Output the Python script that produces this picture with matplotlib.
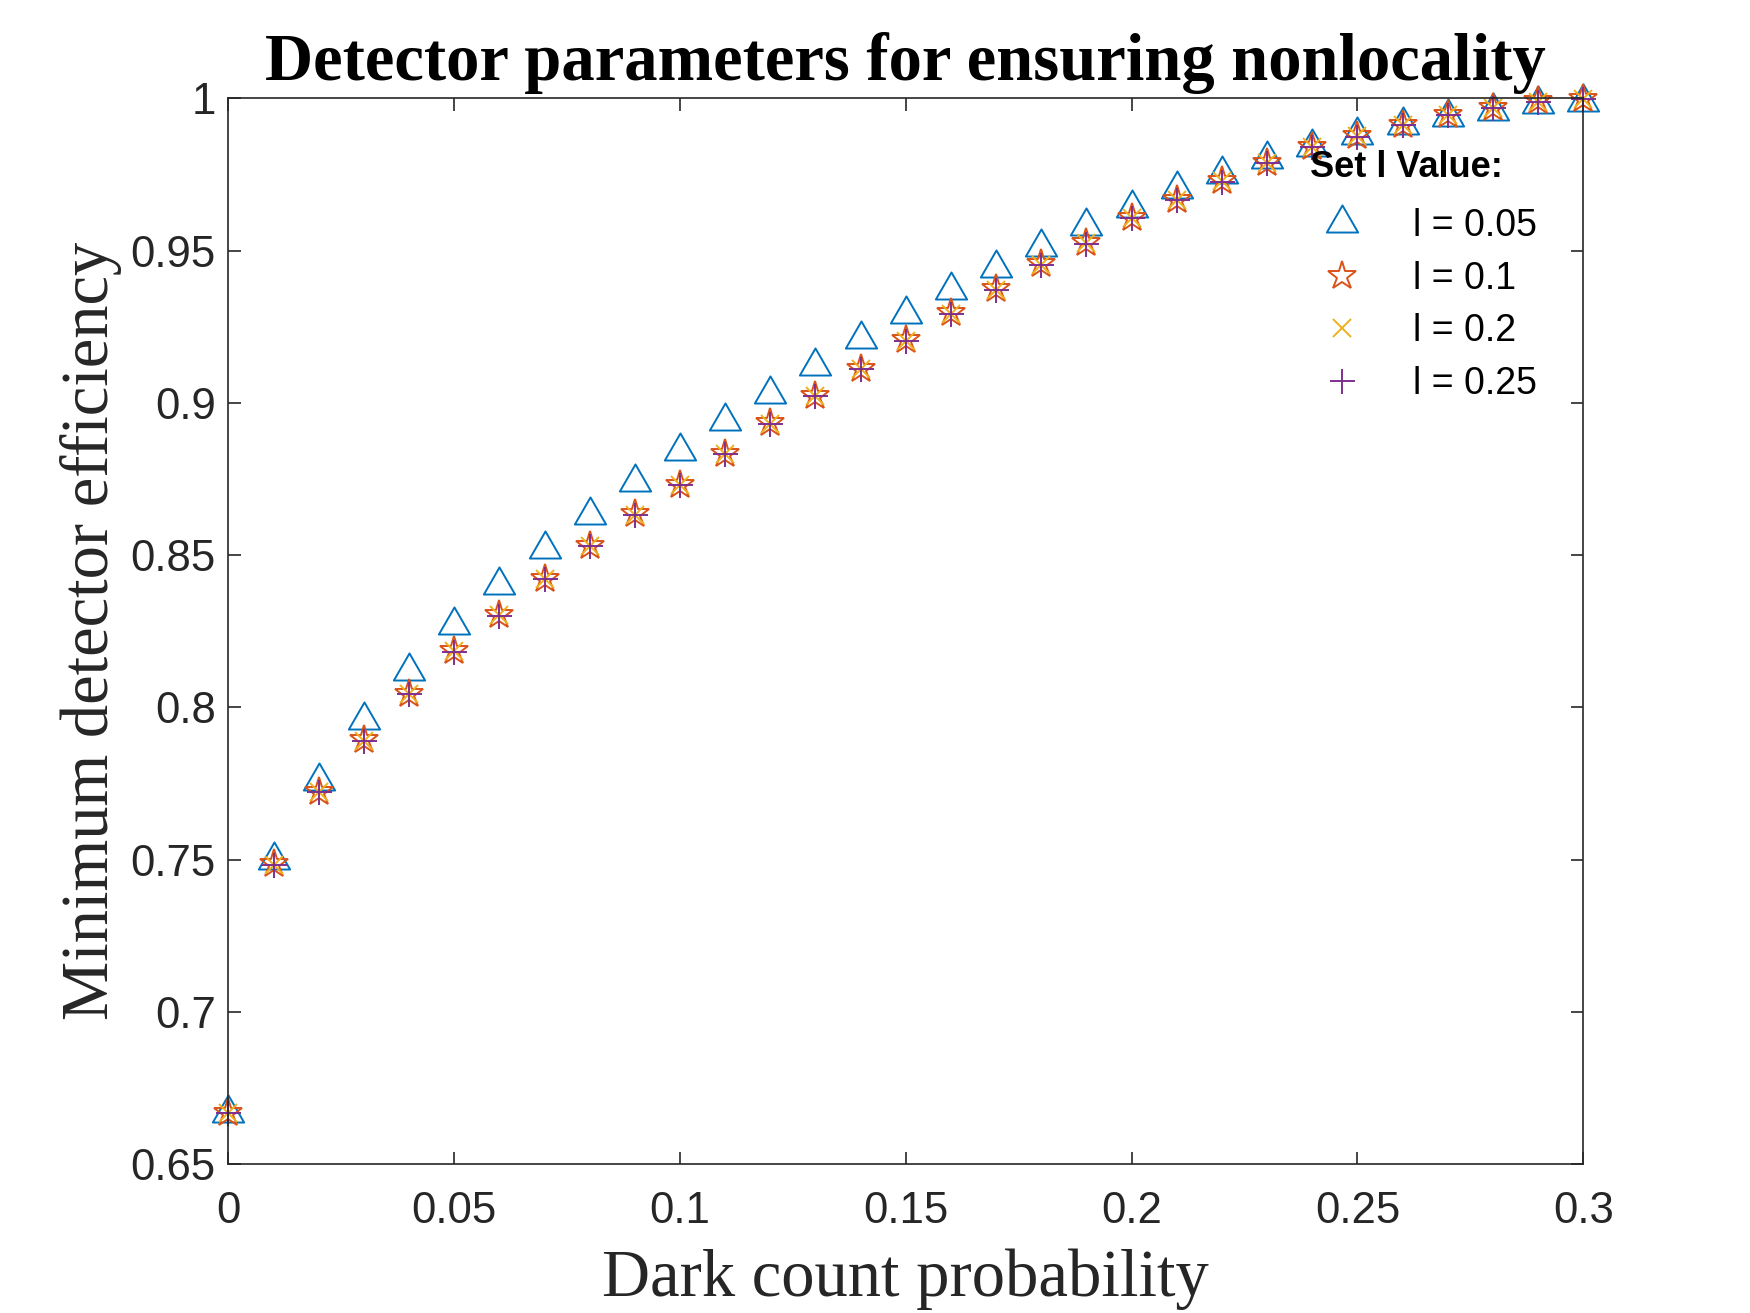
import numpy as np
import matplotlib
matplotlib.use("Agg")
import matplotlib.pyplot as plt
from matplotlib.path import Path

# dark count probability
dark = [0.00, 0.01, 0.02, 0.03, 0.04, 0.05, 0.06, 0.07, 0.08, 0.09, 0.10,
        0.11, 0.12, 0.13, 0.14, 0.15, 0.16, 0.17, 0.18, 0.19, 0.20,
        0.21, 0.22, 0.23, 0.24, 0.25, 0.26, 0.27, 0.28, 0.29, 0.30]

# minimum detector efficiency, one list per l value
eta_005 = [0.6667, 0.7499, 0.7759, 0.7959, 0.8120, 0.8271, 0.8401, 0.8520, 0.8631, 0.8740, 0.8841,
           0.8941, 0.9030, 0.9120, 0.9210, 0.9292, 0.9371, 0.9442, 0.9511, 0.9580, 0.9640,
           0.9701, 0.9750, 0.9801, 0.9839, 0.9880, 0.9912, 0.9938, 0.9959, 0.9980, 0.9988]
eta_01 = [0.6667, 0.7485, 0.7723, 0.7892, 0.8045, 0.8185, 0.8303, 0.8423, 0.8531, 0.8634, 0.8732,
          0.8833, 0.8933, 0.9024, 0.9112, 0.9205, 0.9294, 0.9373, 0.9455, 0.9525, 0.9608,
          0.9667, 0.9728, 0.9789, 0.9841, 0.9876, 0.9914, 0.9946, 0.9968, 0.9990, 0.9997]
eta_02 = [0.6667, 0.7484, 0.7722, 0.7891, 0.8044, 0.8184, 0.8302, 0.8422, 0.8530, 0.8633, 0.8731,
          0.8832, 0.8932, 0.9023, 0.9111, 0.9204, 0.9293, 0.9372, 0.9454, 0.9524, 0.9607,
          0.9666, 0.9727, 0.9788, 0.9840, 0.9875, 0.9913, 0.9945, 0.9967, 0.9989, 0.9997]
eta_025 = [0.6667, 0.7483, 0.7721, 0.7890, 0.8043, 0.8183, 0.8301, 0.8421, 0.8529, 0.8632, 0.8730,
           0.8831, 0.8931, 0.9022, 0.9110, 0.9203, 0.9292, 0.9371, 0.9453, 0.9523, 0.9606,
           0.9665, 0.9726, 0.9787, 0.9839, 0.9874, 0.9912, 0.9945, 0.9967, 0.9989, 0.9997]

labels = ["l = 0.05", "l = 0.1", "l = 0.2", "l = 0.25"]
xticks = [0, 0.05, 0.1, 0.15, 0.2, 0.25, 0.3]
xticklabels = ["0", "0.05", "0.1", "0.15", "0.2", "0.25", "0.3"]
yticks = [0.65, 0.7, 0.75, 0.8, 0.85, 0.9, 0.95, 1.0]
yticklabels = ["0.65", "0.7", "0.75", "0.8", "0.85", "0.9", "0.95", "1"]

# matlab style triangle, centred on its centroid
h = np.sqrt(3) / 2
tri = Path([(0, 2 * h / 3), (-0.5, -h / 3), (0.5, -h / 3), (0, 2 * h / 3)],
           [Path.MOVETO, Path.LINETO, Path.LINETO, Path.CLOSEPOLY])

serif = "Liberation Serif"
sans = "Liberation Sans"
ink = "#262626"

fig = plt.figure(figsize=(17.5, 13.13), dpi=100)
ax = fig.add_axes([0.1305, 0.1133, 0.7742, 0.8118])

ax.plot(dark, eta_005, linestyle="none", marker=tri, markersize=26, markerfacecolor="none",
        markeredgecolor="#0072BD", markeredgewidth=1.4, label=labels[0], clip_on=False)
ax.plot(dark, eta_01, linestyle="none", marker="*", markersize=21, markerfacecolor="none",
        markeredgecolor="#D95319", markeredgewidth=1.4, label=labels[1], clip_on=False)
ax.plot(dark, eta_02, linestyle="none", marker="x", markersize=13, color="#EDB120",
        markeredgewidth=1.4, label=labels[2], clip_on=False)
ax.plot(dark, eta_025, linestyle="none", marker="+", markersize=18, color="#7E2F8E",
        markeredgewidth=1.4, label=labels[3], clip_on=False)

ax.set_xlim(0, 0.3)
ax.set_ylim(0.65, 1.0)
ax.set_xticks(xticks)
ax.set_xticklabels(xticklabels, fontfamily=sans, fontsize=31.5, color=ink)
ax.set_yticks(yticks)
ax.set_yticklabels(yticklabels, fontfamily=sans, fontsize=31.5, color=ink)
ax.tick_params(axis="both", direction="in", length=9, width=1.2, color=ink,
               top=True, right=True)
ax.tick_params(axis="x", pad=19)
ax.tick_params(axis="y", pad=9)
for sp in ax.spines.values():
    sp.set_color(ink)
    sp.set_linewidth(1.2)

ax.set_title("Detector parameters for ensuring nonlocality", fontfamily=serif,
             fontsize=48, fontweight="bold", pad=13)
ax.set_xlabel("Dark count probability", fontfamily=serif, fontsize=48, color=ink, labelpad=12)
ax.set_ylabel("Minimum detector efficiency", fontfamily=serif, fontsize=48, color=ink, labelpad=6)

# legend without frame, title drawn as its own text
leg = ax.legend(loc="upper left", bbox_to_anchor=(0.7996, 0.897), frameon=False,
                borderpad=0, borderaxespad=0, prop={"family": sans, "size": 27},
                handletextpad=1.1, labelspacing=0.44, handlelength=1.6)
ax.text(0.798, 0.9355, "Set l Value:", transform=ax.transAxes, ha="left", va="center",
        fontfamily=sans, fontsize=26, fontweight="bold")

fig.savefig("out.png", dpi=100)
